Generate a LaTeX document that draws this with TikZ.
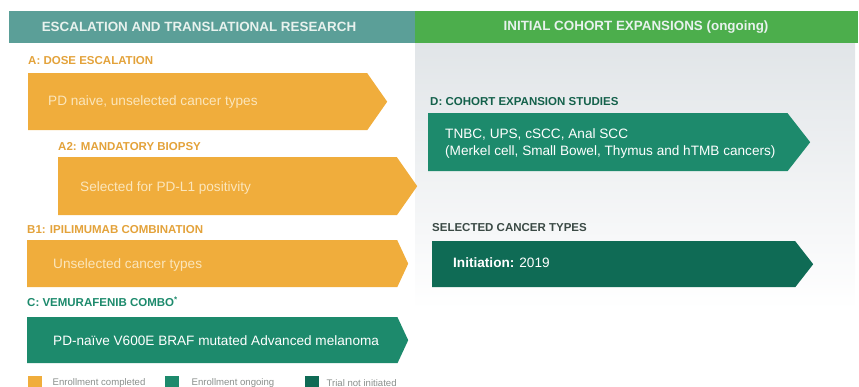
\documentclass[tikz,border=0pt]{standalone}
\usepackage{fontspec}
\setmainfont{Liberation Sans}
\usetikzlibrary{shapes.symbols}
\usetikzlibrary{positioning}
\definecolor{donecol}{HTML}{F0AD3C}
\definecolor{ongoingcol}{HTML}{1D8A6C}
\definecolor{notinitcol}{HTML}{0F6B55}
\definecolor{leftbar}{HTML}{5B9F98}
\definecolor{rightbar}{HTML}{4CAE4C}
\definecolor{panelgrey}{HTML}{E1E5E8}
\definecolor{paletext}{HTML}{FBE6BC}
\definecolor{hdrtext}{HTML}{E8F2EE}
\definecolor{donelabel}{HTML}{E3A23A}
\definecolor{darklabel}{HTML}{3B4A45}
\definecolor{legendtext}{HTML}{8A8F8C}

\begin{document}
\begin{tikzpicture}[
				x=1pt, y=-1pt,
				stage/.style={shape=signal, signal to=east, inner sep=0pt, anchor=north west},
				stagetext/.style={anchor=west, inner sep=0pt, align=left, font=\fontsize{13.6}{17}\selectfont},
				armlabel/.style={anchor=west, inner sep=0pt, font=\fontsize{11.5}{13}\selectfont\bfseries},
				header/.style={inner sep=0pt, text=hdrtext, font=\fontsize{13.4}{15}\selectfont\bfseries},
				legendbox/.style={minimum size=14pt, inner sep=0pt, anchor=north west},
				legendtxt/.style={anchor=west, inner sep=0pt, text=legendtext, font=\fontsize{9.6}{11}\selectfont},
			]
				\useasboundingbox (0,0) rectangle (859,387);

				% header bars and right panel
				\shade[top color=panelgrey, bottom color=white] (415,43) rectangle (855,310);
				\fill[leftbar] (9,11) rectangle (415,43);
				\fill[rightbar] (415,11) rectangle (858,43);
				\node[header] (escalation) at (199,27) {ESCALATION AND TRANSLATIONAL RESEARCH};
				\node[header] (expansion) at (636,27) {INITIAL COHORT EXPANSIONS (ongoing)};

				% left column
				\node[armlabel, text=donelabel] (dose label) at (28,61) {A: DOSE ESCALATION};
				\node[stage, fill=donecol, minimum width=359pt, minimum height=57pt, signal pointer angle=110] (dose) at (28,73) {};
				\node[stagetext, text=paletext] (dose text) at (48,102) {PD naive, unselected cancer types};

				\node[armlabel, text=donelabel] (biopsy label) at (58,147) {A2: MANDATORY BIOPSY};
				\node[stage, fill=donecol, minimum width=359pt, minimum height=58pt, signal pointer angle=110] (biopsy) at (58,157) {};
				\node[stagetext, text=paletext] (biopsy text) at (80,188) {Selected for PD-L1 positivity};

				\node[armlabel, text=donelabel] (ipi label) at (27,230) {B1: IPILIMUMAB COMBINATION};
				\node[stage, fill=donecol, minimum width=381pt, minimum height=47pt, signal pointer angle=130] (ipi) at (27,240) {};
				\node[stagetext, text=paletext] (ipi text) at (53,265) {Unselected cancer types};

				\node[armlabel, text=ongoingcol] (vemu label) at (27,302) {C: VEMURAFENIB COMBO\textsuperscript{*}};
				\node[stage, fill=ongoingcol, minimum width=381pt, minimum height=46pt, signal pointer angle=130] (vemu) at (27,317) {};
				\node[stagetext, text=white] (vemu text) at (53,341) {PD-naïve V600E BRAF mutated Advanced melanoma};

				% right column
				\node[armlabel, text=ongoingcol!70!black] (cohort label) at (430,102) {D: COHORT EXPANSION STUDIES};
				\node[stage, fill=ongoingcol, minimum width=382pt, minimum height=58pt, signal pointer angle=104] (cohort) at (428,113) {};
				\node[stagetext, text=white] (cohort text) at (445,143) {TNBC, UPS, cSCC, Anal SCC\\(Merkel cell, Small Bowel, Thymus and hTMB cancers)};

				\node[armlabel, text=darklabel] (selected label) at (432,228) {SELECTED CANCER TYPES};
				\node[stage, fill=notinitcol, minimum width=381pt, minimum height=46pt, signal pointer angle=104] (selected) at (432,241) {};
				\node[stagetext, text=white] (selected text) at (453,263) {\textbf{Initiation:} 2019};

				% legend
				\node[legendbox, fill=donecol] (done key) at (28,376) {};
				\node[legendtxt, right=10pt of done key] (done key text) {Enrollment completed};
				\node[legendbox, fill=ongoingcol] (ongoing key) at (165,376) {};
				\node[legendtxt, right=12pt of ongoing key] (ongoing key text) {Enrollment ongoing};
				\node[legendbox, fill=notinitcol] (notinit key) at (305,376) {};
				\node[legendtxt, right=7pt of notinit key] (notinit key text) {Trial not initiated};
			\end{tikzpicture}
\end{document}
